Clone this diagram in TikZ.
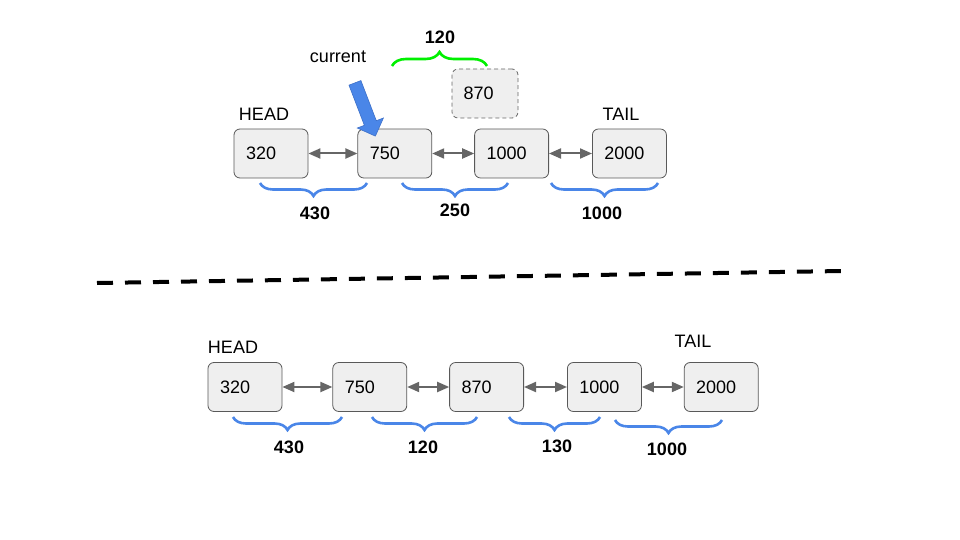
\documentclass[tikz,border=0pt]{standalone}
\usepackage{fontspec}
\setmainfont{Liberation Sans}
\usepackage{tikz}
\usetikzlibrary{positioning,arrows.meta,decorations.pathreplacing,shapes.arrows}
\definecolor{cellfill}{HTML}{EFEFEF}
\definecolor{cellline}{HTML}{595959}
\definecolor{linkgray}{HTML}{666666}
\definecolor{braceblue}{HTML}{4A86E8}
\definecolor{ptrline}{HTML}{3C6FC8}
\definecolor{bracegreen}{HTML}{00F000}

\begin{document}
\begin{tikzpicture}[x=1pt,y=-1pt]
	\tikzstyle{cell}=[rectangle, rounded corners=6pt, draw=cellline, line width=0.8pt, fill=cellfill, minimum width=74pt, minimum height=49pt, text width=50pt, inner xsep=12pt, align=left, font=\fontsize{18}{20}\selectfont]
	\tikzstyle{ghost}=[cell, draw=linkgray, dash pattern=on 4pt off 3pt, minimum width=66pt, text width=43pt, inner xsep=11pt]
	\tikzstyle{connect}=[{Triangle[length=12pt,width=10pt]}-{Triangle[length=12pt,width=10pt]}, line width=2pt, draw=linkgray]
	\tikzstyle{lbl}=[font=\fontsize{18}{20}\selectfont, inner sep=1pt]
	\tikzstyle{num}=[font=\fontsize{18}{20}\selectfont\bfseries, inner sep=1pt]
	\tikzstyle{curly}=[decorate, decoration={brace, mirror, amplitude=13pt}, line width=2.6pt, draw=braceblue]
	\tikzstyle{curlyup}=[decorate, decoration={brace, amplitude=14pt}, line width=2.6pt, draw=bracegreen]
	\useasboundingbox (0,0) rectangle (960,540);
	% before: 870 not yet in the list
	\node[cell] (v320) at (271,153.5) {320};
	\node[cell] (v750) [right=49pt of v320] {750};
	\node[cell] (v1000) [right=42pt of v750] {1000};
	\node[cell] (v2000) [right=43pt of v1000] {2000};
	\node[ghost] (v870) at (485,93.5) {870};
	\node[lbl] (headA) at (264,114) {HEAD};
	\node[lbl] (tailA) at (621,114) {TAIL};
	\node[lbl] (curlbl) at (338,57) {current};
	\node[single arrow, fill=braceblue, draw=ptrline, line width=0.6pt, minimum height=57pt, minimum width=28pt, single arrow head extend=7.5pt, inner sep=6pt, rotate=-69] (cur) at (364,106.5) {};
	\path (v320) edge [connect] (v750)
	(v750) edge [connect] (v1000)
	(v1000) edge [connect] (v2000);
	\draw[curly] (260,183) -- (367,183);
	\draw[curly] (402,183) -- (508,183);
	\draw[curly] (551,183) -- (658,183);
	\draw[curlyup] (392,66) -- (487,66);
	\node[num] (dA1) at (315,213) {430};
	\node[num] (dA2) at (455,210) {250};
	\node[num] (dA3) at (602,213) {1000};
	\node[num] (dA4) at (440,37) {120};
	% divider
	\draw[line width=4pt, dash pattern=on 16pt off 12pt] (97,283) -- (842,271);
	% after: 870 inserted
	\node[cell] (w320) at (245,387) {320};
	\node[cell] (w750) [right=50pt of w320] {750};
	\node[cell] (w870) [right=42pt of w750] {870};
	\node[cell] (w1000) [right=43pt of w870] {1000};
	\node[cell] (w2000) [right=42pt of w1000] {2000};
	\node[lbl] (headB) at (233,347) {HEAD};
	\node[lbl] (tailB) at (693,341) {TAIL};
	\path (w320) edge [connect] (w750)
	(w750) edge [connect] (w870)
	(w870) edge [connect] (w1000)
	(w1000) edge [connect] (w2000);
	\draw[curly] (233,417) -- (342,417);
	\draw[curly] (372,417) -- (477,417);
	\draw[curly] (509,417) -- (600,417);
	\draw[curly] (615,420) -- (722,420);
	\node[num] (dB1) at (289,447) {430};
	\node[num] (dB2) at (423,447) {120};
	\node[num] (dB3) at (557,446) {130};
	\node[num] (dB4) at (667,449) {1000};
\end{tikzpicture}
\end{document}
